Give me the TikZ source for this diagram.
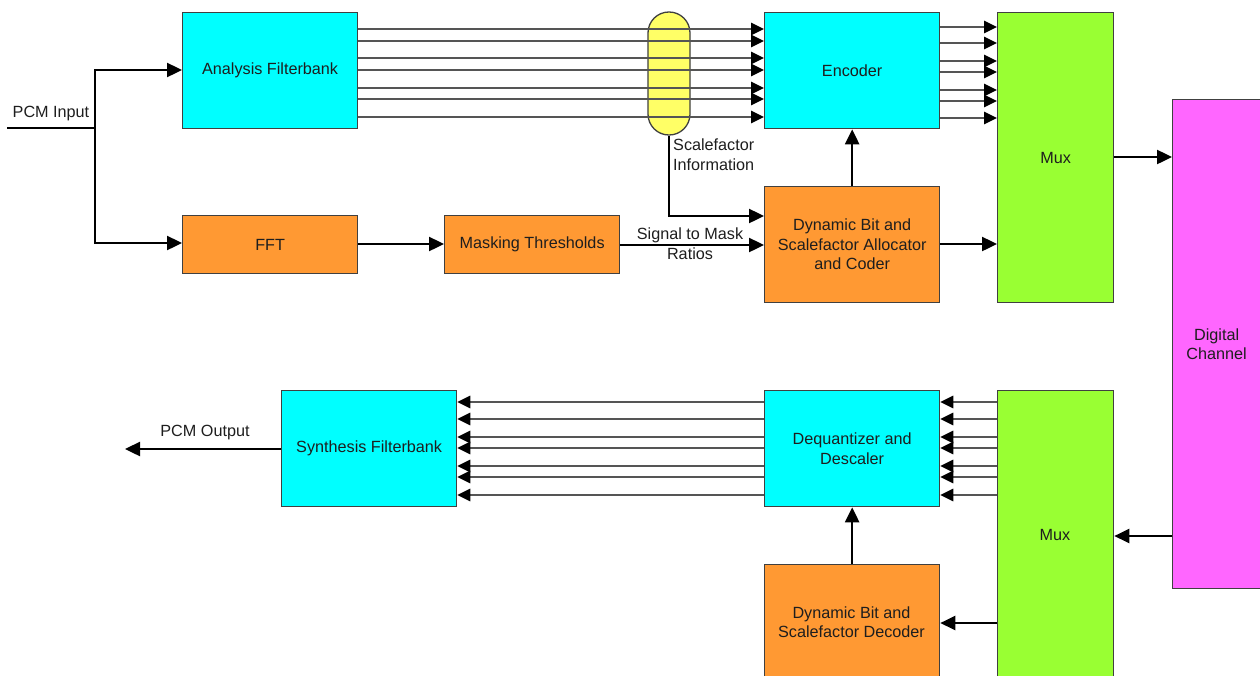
\documentclass[tikz,border=0pt]{standalone}
\usepackage{fontspec}
\setmainfont{Liberation Sans}
\usetikzlibrary{arrows.meta}
\definecolor{cbox}{HTML}{00FFFF}
\definecolor{obox}{HTML}{FF9933}
\definecolor{gbox}{HTML}{99FF33}
\definecolor{mbox}{HTML}{FF66FF}
\definecolor{ybox}{HTML}{FFFF66}
\definecolor{bord}{HTML}{404040}
\definecolor{txt}{HTML}{1E1E1E}
\definecolor{bundle}{HTML}{555555}
\newcommand\dfont{\fontsize{16.2}{19.5}\selectfont}
\begin{document}
\begin{tikzpicture}[x=1pt,y=-1pt,
  blk/.style={draw=bord,line width=1.3pt,inner sep=0pt,align=center,font=\dfont,text=txt,anchor=north west},
  lbl/.style={font=\dfont,text=txt,inner sep=0pt,align=center},
  conn/.style={-{Triangle[length=15pt,width=14pt]},line width=2.4pt,black},
  bund/.style={-{Triangle[length=13pt,width=12.5pt,fill=black,color=black]},line width=1.6pt,draw=bundle}
]
\clip (0,0) rectangle (1260,675);
\fill[white] (0,0) rectangle (1260,675);
% capsule
\node[draw=bord,line width=1.3pt,fill=ybox,minimum width=42pt,minimum height=123pt,rounded corners=20.9pt,inner sep=0pt] (cap) at (669,73.5) {};
% blocks
\node[blk,fill=cbox,minimum width=175pt,minimum height=116pt] (af) at (182,12) {Analysis Filterbank};
\node[blk,fill=cbox,minimum width=175pt,minimum height=116pt] (enc) at (764,12) {Encoder};
\node[blk,fill=gbox,minimum width=116pt,minimum height=290pt] (mux1) at (997,12) {Mux};
\node[blk,fill=mbox,minimum width=88pt,minimum height=489pt] (dc) at (1172,99) {Digital\\Channel};
\node[blk,fill=obox,minimum width=175pt,minimum height=58pt] (fft) at (182,215) {FFT};
\node[blk,fill=obox,minimum width=175pt,minimum height=58pt] (mask) at (444,215) {Masking Thresholds};
\node[blk,fill=obox,minimum width=175pt,minimum height=116pt] (dyn) at (764,186) {Dynamic Bit and\\Scalefactor Allocator\\and Coder};
\node[blk,fill=cbox,minimum width=175pt,minimum height=116pt] (syn) at (281,390) {Synthesis Filterbank};
\node[blk,fill=cbox,minimum width=175pt,minimum height=116pt] (deq) at (764,390) {Dequantizer and\\Descaler};
\node[blk,fill=gbox,minimum width=116pt,minimum height=290pt] (mux2) at (997,390) {};
\node[lbl] (mux2t) at (1055,535) {Mux};
\node[blk,fill=obox,minimum width=175pt,minimum height=116pt] (dec) at (764,564) {};
\node[lbl] (dect) at (851.5,622) {Dynamic Bit and\\Scalefactor Decoder};
% bundles
\foreach \y in {29,41,58,70,88,99,117} {
  \draw[bund] (af.east |- 0,\y) -- (enc.west |- 0,\y);
}
\foreach \y in {27,43,61,72,90,101,118} {
  \draw[bund] (enc.east |- 0,\y) -- (mux1.west |- 0,\y);
}
\foreach \y in {402,419,437,448,466,477,495} {
  \draw[bund] (mux2.west |- 0,\y) -- (deq.east |- 0,\y);
  \draw[bund] (deq.west |- 0,\y) -- (syn.east |- 0,\y);
}
% PCM input
\coordinate (in) at (7,128);
\coordinate (jn) at (95,128);
\draw[line width=2.4pt] (in) -- (jn);
\draw[conn] (jn) |- (af.west |- 0,70);
\draw[conn] (jn) |- (fft.west |- 0,243);
\node[lbl,anchor=south] (pcmin) at (51,121) {PCM Input};
% other connectors
\draw[conn] (fft.east |- 0,244) -- (mask.west |- 0,244);
\draw[conn] (mask.east |- 0,245) -- (dyn.west |- 0,245);
\node[lbl] (smr) at (690,243.5) {Signal to Mask\\Ratios};
\draw[conn] (cap.south) |- (dyn.west |- 0,216);
\node[lbl,anchor=north west,align=left] (sfi) at (673,139) {Scalefactor\\Information};
\draw[conn] (dyn.north) -- (enc.south);
\draw[conn] (dyn.east |- 0,244) -- (mux1.west |- 0,244);
\draw[conn] (mux1.east |- 0,157) -- (dc.west |- 0,157);
\draw[conn] (dc.west |- 0,536) -- (mux2.east |- 0,536);
\draw[conn] (mux2.west |- 0,623) -- (dec.east |- 0,623);
\draw[conn] (dec.north) -- (deq.south);
\coordinate (out) at (125,449);
\draw[conn] (syn.west |- 0,449) -- (out);
\node[lbl,anchor=south] (pcmout) at (205,440) {PCM Output};
\end{tikzpicture}
\end{document}
